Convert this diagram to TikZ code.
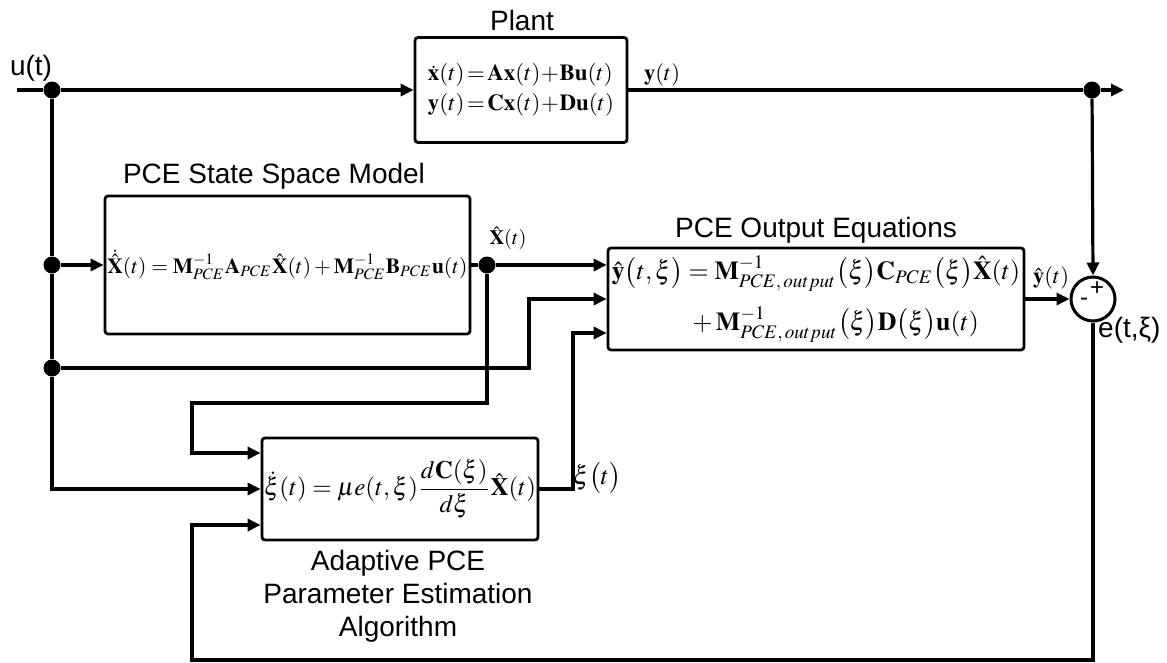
\documentclass[tikz,border=0pt]{standalone}
\usepackage{amsmath}
\usepackage{mathptmx}
\usepackage[no-math]{fontspec}
\setmainfont{Liberation Sans}
\usepackage{graphicx}
\usetikzlibrary{arrows.meta}
\begin{document}
\begin{tikzpicture}[x=1pt,y=-1pt,
  blk/.style={draw, line width=2.8pt, rounded corners=3pt, inner sep=0pt},
  wire/.style={line width=3.2pt},
  arr/.style={line width=3.2pt, -{Triangle[length=13pt,width=12pt]}},
  jdot/.style={circle, fill, inner sep=0pt, minimum size=17pt},
  lbl/.style={font=\fontsize{28}{33}\selectfont, inner sep=0pt},
  mlbl/.style={inner sep=0pt}]
\useasboundingbox (0,0) rectangle (1167,662);

% blocks
\node[blk, minimum width=212pt, minimum height=105pt] (plant) at (521,90) {\raisebox{-3pt}{\resizebox{186pt}{!}{$\begin{array}{@{}l@{}}\dot{\mathbf{x}}(t)\!=\!\mathbf{A}\mathbf{x}(t)\!+\!\mathbf{B}\mathbf{u}(t)\\[1pt] \mathbf{y}(t)\!=\!\mathbf{C}\mathbf{x}(t)\!+\!\mathbf{D}\mathbf{u}(t)\end{array}$}}};
\node[blk, minimum width=365pt, minimum height=138pt] (ss) at (287.5,265) {\resizebox{360pt}{!}{$\dot{\hat{\mathbf{X}}}(t)=\mathbf{M}_{PCE}^{-1}\mathbf{A}_{PCE}\hat{\mathbf{X}}(t)+\mathbf{M}_{PCE}^{-1}\mathbf{B}_{PCE}\mathbf{u}(t)$}};
\node[blk, minimum width=416pt, minimum height=102pt] (out) at (816,299) {\resizebox{408pt}{!}{$\begin{aligned}\hat{\mathbf{y}}\big(t,\xi\big) &= \mathbf{M}^{-1}_{PCE,\,output}\big(\xi\big)\mathbf{C}_{PCE}\big(\xi\big)\hat{\mathbf{X}}(t)\\[2pt] &\;+\mathbf{M}^{-1}_{PCE,\,output}\big(\xi\big)\mathbf{D}\big(\xi\big)\mathbf{u}(t)\end{aligned}$}};
\node[blk, minimum width=276pt, minimum height=102pt] (adapt) at (400,489) {\resizebox{272pt}{!}{$\dot{\xi}(t)=\mu e(t,\xi)\dfrac{d\mathbf{C}(\xi)}{d\xi}\hat{\mathbf{X}}(t)$}};
\node[circle, draw, line width=3pt, minimum size=44pt, inner sep=0pt] (sum) at (1093,299) {};

% junction dots
\node[jdot] (d1) at (52,90) {};
\node[jdot] (d2) at (1092,90) {};
\node[jdot] (d3) at (487,265) {};
\node[jdot] (d4) at (52,265) {};
\node[jdot] (d5) at (52,368) {};

% free ends and bends
\coordinate (uin) at (17,90);
\coordinate (yout) at (1124,90);
\coordinate (k1) at (192,403);
\coordinate (k2) at (529,299);
\coordinate (k3) at (573,333);
\coordinate (k4) at (192,660);

% connectors
\draw[wire] (uin) -- (d1);
\draw[arr] (d1) -- (plant.west);
\draw[wire] (plant.east) -- (d2);
\draw[arr] (d2) -- (yout);
\draw[arr] (d2) -- (sum.north);
\draw[wire] (d1) -- (d4);
\draw[wire] (d4) -- (d5);
\draw[arr] (d5) |- (adapt.west);
\draw[arr] (d4) -- (ss.west);
\draw[wire] (ss.east) -- (d3);
\draw[arr] (d3) -- ([yshift=34pt]out.west);
\draw[arr] (d3) |- (k1) |- ([yshift=36pt]adapt.west);
\draw[arr] (d5) -| (k2) -- (out.west);
\draw[arr] (adapt.east) -| (k3) -- ([yshift=-34pt]out.west);
\draw[arr] (out.east) -- (sum.west);
\draw[arr] (sum.south) |- (k4) |- ([yshift=-36pt]adapt.west);

% labels
\node[lbl] (ulbl) at (31,68) {u(t)};
\node[lbl] (plantT) at (522,20) {Plant};
\node[mlbl] (ylbl) at (662,75) {\resizebox{36pt}{!}{$\mathbf{y}(t)$}};
\node[lbl] (ssT) at (274,176) {PCE State Space Model};
\node[mlbl] (xlbl) at (508,238) {\resizebox{37pt}{!}{$\hat{\mathbf{X}}(t)$}};
\node[lbl] (outT) at (816,230) {PCE Output Equations};
\node[mlbl] (yhlbl) at (1051,278) {\resizebox{36pt}{!}{$\hat{\mathbf{y}}(t)$}};
\node[font=\fontsize{24}{24}\selectfont, inner sep=0pt] (plus) at (1097,289) {+};
\node[font=\fontsize{24}{24}\selectfont, inner sep=0pt] (minus) at (1084,302) {-};
\node[lbl, anchor=west] (elbl) at (1098,330) {e(t,ξ)};
\node[mlbl] (xilbl) at (597,478) {\resizebox{48pt}{!}{$\xi\big(t\big)$}};
\node[lbl, align=center] (adT) at (398,596) {Adaptive PCE\\Parameter Estimation\\Algorithm};
\end{tikzpicture}
\end{document}
